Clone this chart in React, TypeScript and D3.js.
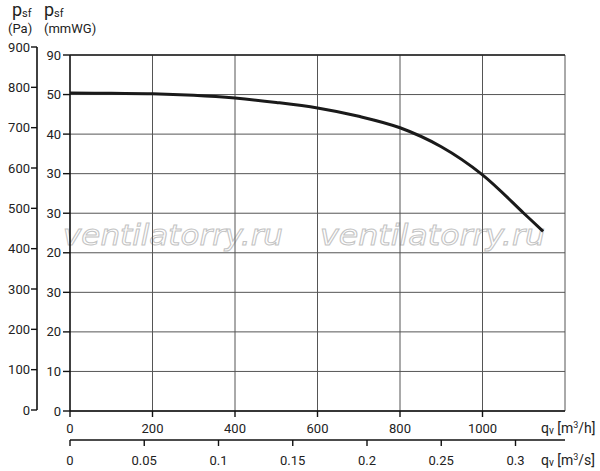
import React from "react";
import * as d3 from "d3";

// ---- data ----
const flowM3h: number[] = [0, 100, 200, 300, 400, 500, 600, 700, 800, 900, 1000, 1100, 1147];
const pressurePa: number[] = [804, 803, 802, 798, 791, 780, 766, 745, 716, 668, 597, 500, 454];
const paTicks: number[] = [0, 100, 200, 300, 400, 500, 600, 700, 800, 900];
const mmwgTickLabels: string[] = ["0", "10", "20", "30", "20", "30", "30", "40", "50", "90"];
const m3hTicks: number[] = [0, 200, 400, 600, 800, 1000];
const gridX: number[] = [200, 400, 600, 800, 1000, 1200];
const m3sTicks: number[] = [0, 0.05, 0.1, 0.15, 0.2, 0.25, 0.3];
const m3sLabels: string[] = ["0", "0.05", "0.1", "0.15", "0.2", "0.25", "0.3"];

const W = 600;
const H = 471;
const FONT = "Roboto, 'DejaVu Sans', sans-serif";

export default function App() {
  const x = d3.scaleLinear().domain([0, 1200]).range([70, 565]);
  const y = d3.scaleLinear().domain([0, 900]).range([411, 55]);
  const yPa = d3.scaleLinear().domain([0, 900]).range([410, 47]);
  const top = y(900);
  const bottom = y(0);
  const left = x(0);
  const right = x(1200);

  const pts: [number, number][] = flowM3h.map((q, i) => [q, pressurePa[i]]);
  const line = d3
    .line<[number, number]>()
    .x((d) => x(d[0]))
    .y((d) => y(d[1]))
    .curve(d3.curveCatmullRom.alpha(0.5));

  const secY = 440;

  return (
    <svg
      width={W}
      height={H}
      style={{ position: "absolute", left: 0, top: 0, background: "#fff" }}
      fontFamily={FONT}
    >
      <rect x={0} y={0} width={W} height={H} fill="#fff" />

      {/* headers */}
      <text x={12} y={16} fontSize={18} fill="#222">
        p<tspan fontSize={11} dy={1}>sf</tspan>
      </text>
      <text x={8} y={33} fontSize={13} fill="#222">(Pa)</text>
      <text x={44} y={16} fontSize={18} fill="#222">
        p<tspan fontSize={11} dy={1}>sf</tspan>
      </text>
      <text x={44} y={33} fontSize={13} fill="#222">(mmWG)</text>

      {/* watermark */}
      <g fontFamily="'DejaVu Sans', sans-serif" fontStyle="italic" fontSize={28} fill="none" stroke="#c4c4c4" strokeWidth={1}>
        <text x={63} y={245} textLength={220} lengthAdjust="spacingAndGlyphs">ventilatorry.ru</text>
        <text x={320} y={245} textLength={225} lengthAdjust="spacingAndGlyphs">ventilatorry.ru</text>
      </g>

      {/* grid */}
      {paTicks.map((t) => (
        <line key={"h" + t} x1={left} x2={right} y1={y(t)} y2={y(t)} stroke="#555" strokeWidth={1} />
      ))}
      {gridX.map((t) => (
        <line key={"v" + t} x1={x(t)} x2={x(t)} y1={top} y2={bottom} stroke="#555" strokeWidth={1} />
      ))}

      {/* plot frame */}
      <line x1={left} x2={left} y1={top} y2={bottom} stroke="#111" strokeWidth={1.6} />
      <line x1={left} x2={right} y1={bottom} y2={bottom} stroke="#111" strokeWidth={1.6} />
      <line x1={left} x2={right} y1={top} y2={top} stroke="#222" strokeWidth={1.3} />

      {/* Pa axis */}
      <line x1={37} x2={37} y1={yPa(900)} y2={yPa(0)} stroke="#111" strokeWidth={1.6} />
      {paTicks.map((t) => (
        <g key={"pa" + t}>
          <line x1={31} x2={37} y1={yPa(t)} y2={yPa(t)} stroke="#111" strokeWidth={1.4} />
          <text x={30} y={yPa(t)} dy="0.35em" textAnchor="end" fontSize={13} fill="#222">
            {t}
          </text>
        </g>
      ))}

      {/* mmWG axis */}
      {paTicks.map((t, i) => (
        <g key={"mm" + t}>
          <line x1={63} x2={left} y1={y(t)} y2={y(t)} stroke="#111" strokeWidth={1.4} />
          <text x={61} y={y(t)} dy="0.35em" textAnchor="end" fontSize={13} fill="#222">
            {mmwgTickLabels[i]}
          </text>
        </g>
      ))}

      {/* m3/h axis */}
      {m3hTicks.map((t) => (
        <g key={"qh" + t}>
          <line x1={x(t)} x2={x(t)} y1={bottom} y2={bottom + 6} stroke="#111" strokeWidth={1.4} />
          <text x={x(t)} y={428} dy="0.35em" textAnchor="middle" fontSize={13} fill="#222">
            {t}
          </text>
        </g>
      ))}
      <text x={541} y={428} dy="0.35em" fontSize={14} fill="#222">
        q<tspan fontSize={10} dy={1}>v</tspan>
        <tspan dy={-1}> [m</tspan>
        <tspan fontSize={9} dy={-5}>3</tspan>
        <tspan dy={5}>/h]</tspan>
      </text>

      {/* m3/s axis */}
      <line x1={left} x2={right} y1={secY} y2={secY} stroke="#111" strokeWidth={1.6} />
      {m3sTicks.map((t, i) => (
        <g key={"qs" + t}>
          <line x1={x(t * 3600)} x2={x(t * 3600)} y1={secY} y2={secY + 6} stroke="#111" strokeWidth={1.4} />
          <text x={x(t * 3600)} y={460} dy="0.35em" textAnchor="middle" fontSize={13} fill="#222">
            {m3sLabels[i]}
          </text>
        </g>
      ))}
      <text x={541} y={460} dy="0.35em" fontSize={14} fill="#222">
        q<tspan fontSize={10} dy={1}>v</tspan>
        <tspan dy={-1}> [m</tspan>
        <tspan fontSize={9} dy={-5}>3</tspan>
        <tspan dy={5}>/s]</tspan>
      </text>

      {/* curve */}
      <path d={line(pts) || ""} fill="none" stroke="#1a1a1a" strokeWidth={3} strokeLinecap="butt" />
    </svg>
  );
}
